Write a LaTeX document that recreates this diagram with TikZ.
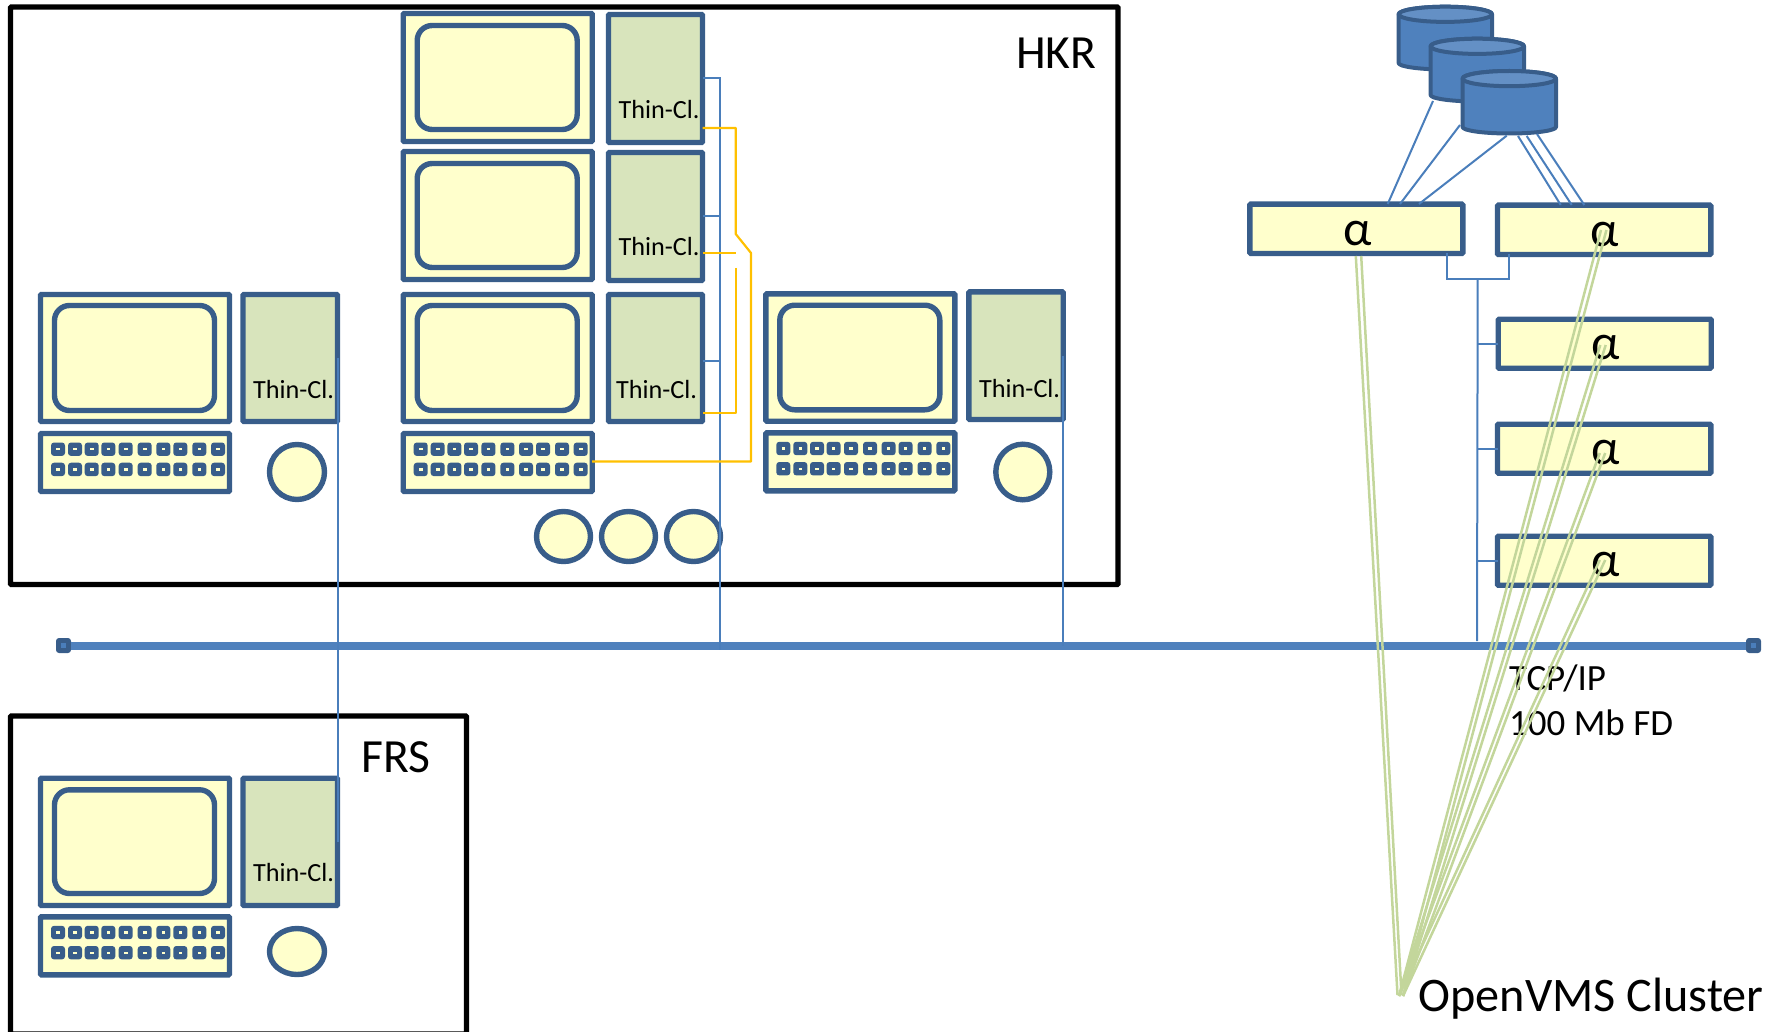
\documentclass[tikz,border=0pt]{standalone}
\usepackage{fontspec}
\setmainfont{Carlito}
\usetikzlibrary{shapes.geometric,calc}
\definecolor{edge}{HTML}{385D8A}
\definecolor{cream}{HTML}{FFFFCC}
\definecolor{thin}{HTML}{D8E4BC}
\definecolor{wire}{HTML}{4A7EBB}
\definecolor{busc}{HTML}{4F81BD}
\definecolor{amber}{HTML}{FFC000}
\definecolor{sage}{HTML}{C3D69B}
\tikzset{
  frame/.style={draw=black,line width=5.4pt,rounded corners=1pt},
  shell/.style={draw=edge,line width=5.4pt,fill=cream,rounded corners=1pt,inner sep=0pt,outer sep=0pt,rectangle},
  screen/.style={shell,rounded corners=15pt},
  thinbox/.style={shell,fill=thin},
  knob/.style={draw=edge,line width=5.4pt,fill=cream,ellipse,inner sep=0pt,outer sep=0pt},
  alphabox/.style={shell},
  wirel/.style={draw=wire,line width=2pt},
  amberl/.style={draw=amber,line width=2.2pt,line join=round},
  sagel/.style={draw=sage,line width=2.5pt},
  busl/.style={draw=busc,line width=8pt},
  busend/.style={fill=edge,rounded corners=3pt,inner sep=0pt,outer sep=0pt,minimum width=15pt,minimum height=15pt},
  cyl/.style={draw=edge,line width=4pt,fill=busc,line join=round},
  tclabel/.style={anchor=base west,inner sep=0pt,font=\fontsize{26.2}{30}\selectfont},
  biglabel/.style={anchor=base west,inner sep=0pt,font=\fontsize{47.6}{56}\selectfont},
  alabel/.style={anchor=base,inner sep=0pt,font=\fontsize{50}{56}\selectfont},
}
% box given by its centre-line corners
\newcommand{\bx}[6]{%
  \pgfmathsetmacro{\bxw}{#5-#3}\pgfmathsetmacro{\bxh}{#6-#4}%
  \pgfmathsetmacro{\bxcx}{(#3+#5)/2}\pgfmathsetmacro{\bxcy}{(#4+#6)/2}%
  \node[#1,minimum width=\bxw pt,minimum height=\bxh pt] (#2) at (\bxcx,\bxcy) {};}
% monitor: name, left, top, bottom, screen top, screen bottom
\newcommand{\monitor}[6]{%
  \pgfmathsetmacro{\monr}{#2+189}%
  \bx{shell}{#1}{#2}{#3}{\monr}{#4}%
  \pgfmathsetmacro{\monsr}{#2+174}\pgfmathsetmacro{\monsl}{#2+14}%
  \bx{screen}{#1s}{\monsl}{#5}{\monsr}{#6}}
% keyboard: name, left, top
\newcommand{\keyb}[3]{%
  \pgfmathsetmacro{\keyr}{#2+189}\pgfmathsetmacro{\keyd}{#3+58}%
  \bx{shell}{#1}{#2}{#3}{\keyr}{\keyd}%
  \foreach \kdy in {15.7,35.9}{\foreach \kdx in {17.5,34.5,51.2,67.8,85.2,104.2,122.8,139.8,158.8,177.5}{%
    \pgfmathsetmacro{\kx}{#2+\kdx}\pgfmathsetmacro{\ky}{#3+\kdy}%
    \fill[edge,rounded corners=3pt] (\kx-7,\ky-6.7) rectangle (\kx+7,\ky+6.7);
    \fill[cream] (\kx-1.8,\ky-1.1) rectangle (\kx+1.8,\ky+1.1);}}}
% cylinder: centre x, top-ellipse centre y, side bottom y
\newcommand{\cylinder}[3]{%
  \pgfmathsetmacro{\cyll}{#1-46.7}\pgfmathsetmacro{\cylr}{#1+46.7}%
  \draw[cyl] (\cyll,#2) -- (\cyll,#3) arc[start angle=180,end angle=360,x radius=46.7pt,y radius=6.5pt] -- (\cylr,#2) arc[start angle=0,end angle=180,x radius=46.7pt,y radius=7.6pt] -- cycle;
  \draw[cyl,fill=busc!88!white] (#1,#2) ellipse[x radius=46.7pt,y radius=7.6pt];}
% double-stranded link
\newcommand{\sagelink}[2]{%
  \draw[sagel] ($(#1)+(-2.7,0)$) -- ($(#2)+(-2,0)$);
  \draw[sagel] ($(#1)+(2.7,0)$) -- ($(#2)+(2,0)$);}
\begin{document}
\begin{tikzpicture}[x=1pt,y=-1pt]
\useasboundingbox (0,0) rectangle (1779,1032);
% rooms
\draw[frame] (10.5,7) rectangle (1118,584.5);
\draw[frame] (10.5,716) rectangle (466.5,1034);
\node[biglabel] (hkr) at (1016,69) {HKR};
\node[biglabel] (frs) at (361,772) {FRS};
% left workstation
\monitor{mL}{40.5}{294.5}{421.5}{305.5}{410.5}
\bx{thinbox}{tcL}{243}{294.5}{337.5}{421.5}
\keyb{kL}{40.5}{433.5}
\bx{knob}{cL}{269.5}{444.5}{324.5}{499.5}
\node[tclabel] (tL) at (253,398) {Thin-Cl.};
% middle workstation stack
\monitor{m1}{403.2}{13.5}{141.5}{25.5}{129.5}
\bx{thinbox}{tc1}{608.5}{14.5}{702.5}{142.5}
\node[tclabel] (t1) at (618.5,118.5) {Thin-Cl.};
\monitor{m2}{403.2}{151.5}{279.5}{163.5}{267.5}
\bx{thinbox}{tc2}{608.5}{152.5}{702.5}{280.5}
\node[tclabel] (t2) at (618.5,255.5) {Thin-Cl.};
\monitor{m3}{403.2}{294.5}{421.5}{305.5}{410.5}
\bx{thinbox}{tc3}{608.5}{294.5}{702.5}{421.5}
\node[tclabel] (t3) at (616,398) {Thin-Cl.};
\keyb{k3}{403.2}{433.5}
\bx{knob}{c1}{536.5}{511.5}{590.5}{561.5}
\bx{knob}{c2}{601.5}{511.5}{655.5}{561.5}
\bx{knob}{c3}{666.5}{511.5}{720.5}{561.5}
% right workstation
\monitor{mR}{765.8}{293.8}{421.2}{305.2}{409.8}
\bx{thinbox}{tcR}{968.8}{291.8}{1063.2}{419.5}
\node[tclabel] (tR) at (979,397) {Thin-Cl.};
\keyb{kR}{765.8}{432.8}
\bx{knob}{cR}{995.8}{444.2}{1049.8}{499.8}
% FRS workstation
\monitor{mF}{40.5}{778.2}{905.5}{789.8}{893.5}
\bx{thinbox}{tcF}{243}{778.2}{337.5}{905.5}
\keyb{kF}{40.5}{916.8}
\bx{knob}{cF}{269.5}{928.5}{324.5}{974.5}
\node[tclabel] (tF) at (253,881) {Thin-Cl.};
% bus
\node[busend] (busL) at (63.5,645.5) {};
\node[busend] (busR) at (1753.5,645.5) {};
\draw[busl] (busL) -- (busR);
\fill[wire] (61,643) rectangle (66,648);
\fill[wire] (1751,643) rectangle (1756,648);
% thin-client wiring
\coordinate (trTop) at (720,78.5);
\coordinate (trBot) at (720,650);
\coordinate (trC) at (720,361);
\draw[wirel] (tc1.east) -- (trTop) -- (trBot);
\draw[wirel] (tc2.east) -- (tc2.east -| trTop);
\draw[wirel] (tc3.east |- trC) -- (trC);
\draw[wirel] (tcL.east) -- (tcF.east);
\draw[wirel] (tcR.east) -- (tcR.east |- busR);
% amber KVM wiring
\coordinate (ya) at (735.7,128);
\coordinate (yb) at (735.7,234);
\coordinate (yc) at (751,253);
\coordinate (yd) at (751,461.5);
\coordinate (ye) at (735.7,253);
\coordinate (yf) at (735.7,268);
\coordinate (yg) at (735.7,413);
\draw[amberl] (tc1.east |- ya) -- (ya) -- (yb) -- (yc) -- (yd) -- (k3.east |- yd);
\draw[amberl] (tc2.east |- ye) -- (ye);
\draw[amberl] (yf) -- (yg) -- (tc3.east |- yg);
% disks
\cylinder{1445.3}{14.3}{63}
\cylinder{1477.3}{46.3}{95}
\cylinder{1509.3}{78.6}{127}
% alpha servers
\bx{alphabox}{a1}{1249.8}{204.2}{1462.8}{253.5}
\bx{alphabox}{a2}{1497.5}{205.2}{1710.8}{254.5}
\bx{alphabox}{a3}{1498.2}{319.2}{1711.2}{368.2}
\bx{alphabox}{a4}{1497.5}{424.2}{1710.8}{473.2}
\bx{alphabox}{a5}{1497.5}{536.2}{1710.8}{585.2}
\node[alabel] (la1) at (1357.7,245.5) {α};
\node[alabel] (la2) at (1605,246.2) {α};
\node[alabel] (la3) at (1606,359.8) {α};
\node[alabel] (la4) at (1605.3,464.5) {α};
\node[alabel] (la5) at (1605.3,576.5) {α};
% disk links
\coordinate (d1) at (1433,101);
\coordinate (d2) at (1460,125);
\coordinate (d3) at (1506.7,135.7);
\coordinate (d4) at (1518,136);
\coordinate (d5) at (1526.7,136);
\coordinate (d6) at (1537,134);
\coordinate (e1) at (1387.7,204);
\coordinate (e2) at (1400,204);
\coordinate (e3) at (1419,204);
\coordinate (e4) at (1560.7,205);
\coordinate (e5) at (1571.7,205);
\coordinate (e6) at (1584.3,205);
\draw[wirel] (d1) -- (e1);
\draw[wirel] (d2) -- (e2);
\draw[wirel] (d3) -- (e3);
\draw[wirel] (d4) -- (e4);
\draw[wirel] (d5) -- (e5);
\draw[wirel] (d6) -- (e6);
% server LAN
\coordinate (lan1) at (1446.7,278.7);
\coordinate (lan2) at (1509.3,278.7);
\coordinate (lanT) at (1477.7,278.7);
\coordinate (lanB) at (1477,641);
\draw[wirel] (a1.south -| lan1) -- (lan1) -- (lan2) -- (a2.south -| lan2);
\draw[wirel] (lanT) -- (lanB);
\draw[wirel] (a3.west) -- (a3.west -| lanT);
\draw[wirel] (a4.west) -- (a4.west -| lanT);
\draw[wirel] (a5.west) -- (a5.west -| lanT);
% labels
\node[anchor=north west,inner sep=0pt,align=left,font=\fontsize{37}{44.7}\selectfont] (tcp) at (1509,664.5) {TCP/IP\\100 Mb FD};
\node[biglabel,font=\fontsize{48.2}{56}\selectfont] (vms) at (1418.5,1011.5) {OpenVMS Cluster};
% cluster links
\coordinate (gL) at (1399.5,995);
\coordinate (gR) at (1401,996);
\coordinate (g1) at (1358.5,256);
\coordinate (g2) at (1603.7,230);
\coordinate (g3) at (1603,345);
\coordinate (g4) at (1602.5,453);
\coordinate (g5) at (1602.5,560);
\sagelink{g1}{gL}
\sagelink{g2}{gR}
\sagelink{g3}{gR}
\sagelink{g4}{gR}
\sagelink{g5}{gR}
\end{tikzpicture}
\end{document}
